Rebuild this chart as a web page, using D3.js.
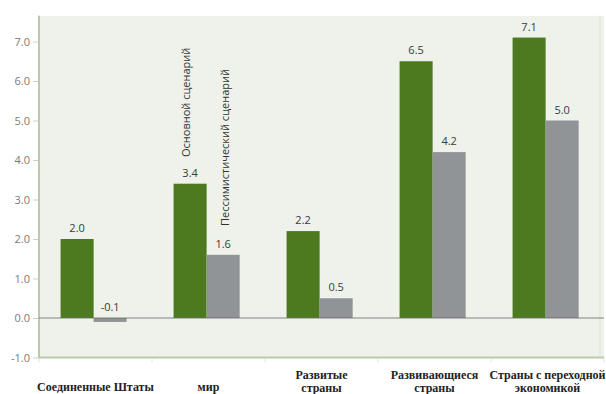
<!DOCTYPE html>
<html lang="ru">
<head>
  <meta charset="UTF-8" />
  <title>Рост ВВП</title>
  <script src="https://d3js.org/d3.v7.min.js"></script>
  <style>
    html, body { margin: 0; background: #fff; }
    svg { display: block; }
    .ytick text { font: 11px "Open Sans", sans-serif; fill: #7a7a7a; }
    .val { font: 11px "Open Sans", sans-serif; fill: #3a3a3a; }
    .cat { font: bold 12px "Liberation Serif", serif; fill: #222; }
    .series { font: 11px "Open Sans", sans-serif; fill: #333; }
  </style>
</head>
<body>
<svg id="chart" width="606" height="394"></svg>
<script>
  // ----- data -----
  const categories = [
    ['Соединенные Штаты'],
    ['мир'],
    ['Развитые', 'страны'],
    ['Развивающиеся', 'страны'],
    ['Страны с переходной', 'экономикой']
  ];
  const series = ['Основной сценарий', 'Пессимистический сценарий'];
  const baseline = [2.0, 3.4, 2.2, 6.5, 7.1];
  const pessimistic = [-0.1, 1.6, 0.5, 4.2, 5.0];
  const yTicks = [-1, 0, 1, 2, 3, 4, 5, 6, 7];

  const colors = ['#4e7a1f', '#909497'];
  const values = [baseline, pessimistic];
  const fmt = v => d3.format('.1f')(v).replace('\u2212', '-');

  const svg = d3.select('#chart');
  const left = 39, right = 604;

  const y = d3.scaleLinear().domain([-1, 7]).range([357.5, 41.5]);
  const x0 = d3.scaleBand().domain(d3.range(categories.length)).range([left, right]);
  const x1 = d3.scaleBand().domain(d3.range(series.length))
    .range([0, x0.bandwidth()]).paddingOuter(0.71).align(0.46);

  // plot background
  svg.append('rect')
    .attr('x', left).attr('y', y(7.65))
    .attr('width', right - left).attr('height', y(-1) - y(7.65))
    .attr('fill', '#eef2ea');

  // frame lines (left + bottom + right)
  svg.append('line').attr('x1', left).attr('x2', left)
    .attr('y1', y(7.65)).attr('y2', y(-1) + 1)
    .attr('stroke', '#b9c9a9').attr('stroke-width', 2);
  svg.append('line').attr('x1', left).attr('x2', right)
    .attr('y1', y(-1)).attr('y2', y(-1))
    .attr('stroke', '#b9c9a9').attr('stroke-width', 2);
  svg.append('line').attr('x1', 600).attr('x2', 600)
    .attr('y1', y(7.65)).attr('y2', y(-1))
    .attr('stroke', '#dde5d6').attr('stroke-width', 1);

  // category separator ticks
  svg.append('g').selectAll('line')
    .data(d3.range(categories.length + 1))
    .enter().append('line')
      .attr('x1', d => left + d * x0.step()).attr('x2', d => left + d * x0.step())
      .attr('y1', y(-1) + 1).attr('y2', y(-1) + 5)
      .attr('stroke', '#e2e8dc');

  // y axis
  const yAxis = svg.append('g')
    .attr('class', 'ytick')
    .attr('transform', `translate(${left - 1},0)`)
    .call(d3.axisLeft(y).tickValues(yTicks).tickFormat(fmt).tickSize(5).tickPadding(3));
  yAxis.select('.domain').remove();
  yAxis.selectAll('.tick line').attr('stroke', '#c9d4bf');

  // bars
  const groups = svg.append('g').selectAll('g')
    .data(categories.map((c, i) => i))
    .enter().append('g')
      .attr('transform', i => `translate(${x0(i)},0)`);

  groups.selectAll('rect')
    .data(i => values.map((v, s) => ({ s, v: v[i] })))
    .enter().append('rect')
      .attr('x', d => x1(d.s))
      .attr('width', x1.bandwidth())
      .attr('y', d => y(Math.max(0, d.v)))
      .attr('height', d => Math.abs(y(d.v) - y(0)))
      .attr('fill', d => colors[d.s]);

  groups.selectAll('text.val')
    .data(i => values.map((v, s) => ({ s, v: v[i] })))
    .enter().append('text')
      .attr('class', 'val')
      .attr('text-anchor', 'middle')
      .attr('x', d => x1(d.s) + x1.bandwidth() / 2)
      .attr('y', d => d.v >= 0 ? y(d.v) - 7 : y(0) - 7)
      .text(d => fmt(d.v));

  // zero line
  svg.append('line').attr('x1', left).attr('x2', right)
    .attr('y1', y(0)).attr('y2', y(0))
    .attr('stroke', '#666').attr('stroke-width', 0.8);

  // series labels, rotated, above the "мир" bars
  const worldIdx = 1;
  const seriesLabelBottom = [157, 226];
  series.forEach((name, s) => {
    const cx = x0(worldIdx) + x1(s) + x1.bandwidth() / 2 - 4 + s * 6;
    svg.append('text')
      .attr('class', 'series')
      .attr('transform', `translate(${cx},${seriesLabelBottom[s]}) rotate(-90)`)
      .attr('dy', '0.35em')
      .text(name);
  });

  // category labels
  svg.append('g').selectAll('text')
    .data(categories)
    .enter().append('text')
      .attr('class', 'cat')
      .attr('text-anchor', 'middle')
      .attr('x', (c, i) => x0(i) + x0.bandwidth() / 2)
      .attr('y', c => c.length > 1 ? 379 : 391)
      .selectAll('tspan')
      .data(c => c)
      .enter().append('tspan')
        .attr('x', function () { return this.parentNode.getAttribute('x'); })
        .attr('dy', (d, j) => j ? 12.5 : 0)
        .text(d => d);
</script>
</body>
</html>
